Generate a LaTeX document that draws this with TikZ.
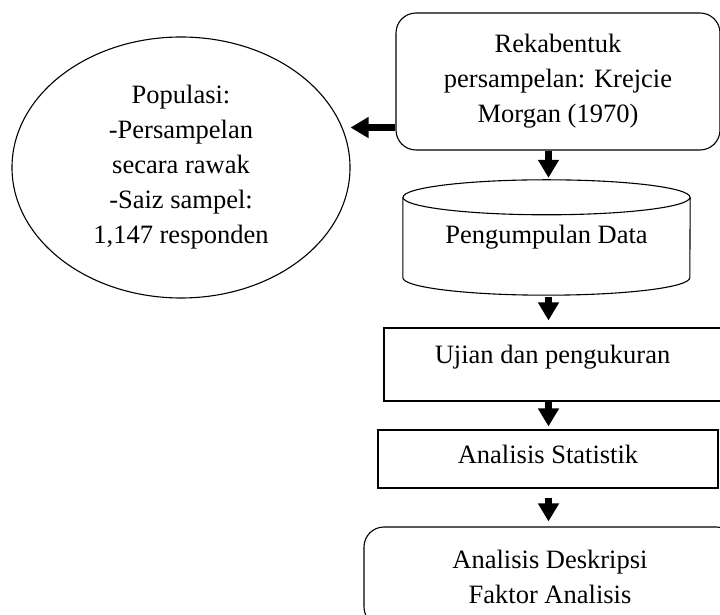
\documentclass[tikz,border=0pt]{standalone}
\usepackage{fontspec}
\setmainfont{Liberation Serif}
\usetikzlibrary{shapes.geometric,arrows.meta}

\tikzset{
    kotak/.style={draw, line width=1.1pt, inner xsep=0pt},
    tebal/.style={-{Triangle[length=18pt,width=20pt]}, line width=6.5pt}
}

\begin{document}
\begin{tikzpicture}[x=1pt, y=1pt, font=\fontsize{26.5}{35}\selectfont]
        \useasboundingbox (0,0) rectangle (720,615);

        % populasi dan rekabentuk
        \node[ellipse, draw, line width=1.1pt, minimum width=338pt, minimum height=261pt, inner sep=0pt, align=center] (pop) at (181,447.5)
            {Populasi:\\-Persampelan\\secara rawak\\-Saiz sampel:\\1,147 responden};
        \node[kotak, rounded corners=20pt, minimum width=324pt, minimum height=137pt, align=center] (design) at (558,533.5)
            {Rekabentuk\\persampelan: Krejcie\\Morgan (1970)};
        \draw[tebal] ([yshift=23pt]design.south west) -- ([yshift=23pt]design.south west -| pop.east);

        % pengumpulan data (silinder)
        \node[minimum width=287pt, minimum height=115pt, inner sep=0pt] (data) at (546.5,377.5) {Pengumpulan Data};
        \draw[line width=1.1pt] ([yshift=-17.5pt]data.north) ellipse [x radius=143.5pt, y radius=17.5pt];
        \draw[line width=1.1pt] ([yshift=-17.5pt]data.north west) -- ([yshift=17.5pt]data.south west)
            arc[start angle=180, end angle=360, x radius=143.5pt, y radius=17.5pt] -- ([yshift=-17.5pt]data.north east);

        % langkah analisis
        \node[kotak, minimum width=337pt, inner ysep=0pt, text height=36pt, text depth=37pt] (ujian) at (552.5,250.5) {Ujian dan pengukuran};
        \node[kotak, minimum width=340pt, inner ysep=0pt, text height=34pt, text depth=24pt] (stat) at (548,156) {Analisis Statistik};
        \node[kotak, rounded corners=20pt, minimum width=372pt, minimum height=100pt, align=center] (hasil) at (550,38)
            {Analisis Deskripsi\\Faktor Analisis};

        \coordinate (paksi) at (548.5,0);
        \draw[tebal, shorten >=2pt] (design.south -| paksi) -- (data.north -| paksi);
        \draw[tebal, shorten <=2pt, shorten >=7pt] (data.south -| paksi) -- (ujian.north -| paksi);
        \draw[tebal, shorten >=3pt] (ujian.south -| paksi) -- (stat.north -| paksi);
        \draw[tebal, shorten <=9pt, shorten >=5pt] (stat.south -| paksi) -- (hasil.north -| paksi);

    \end{tikzpicture}
\end{document}
